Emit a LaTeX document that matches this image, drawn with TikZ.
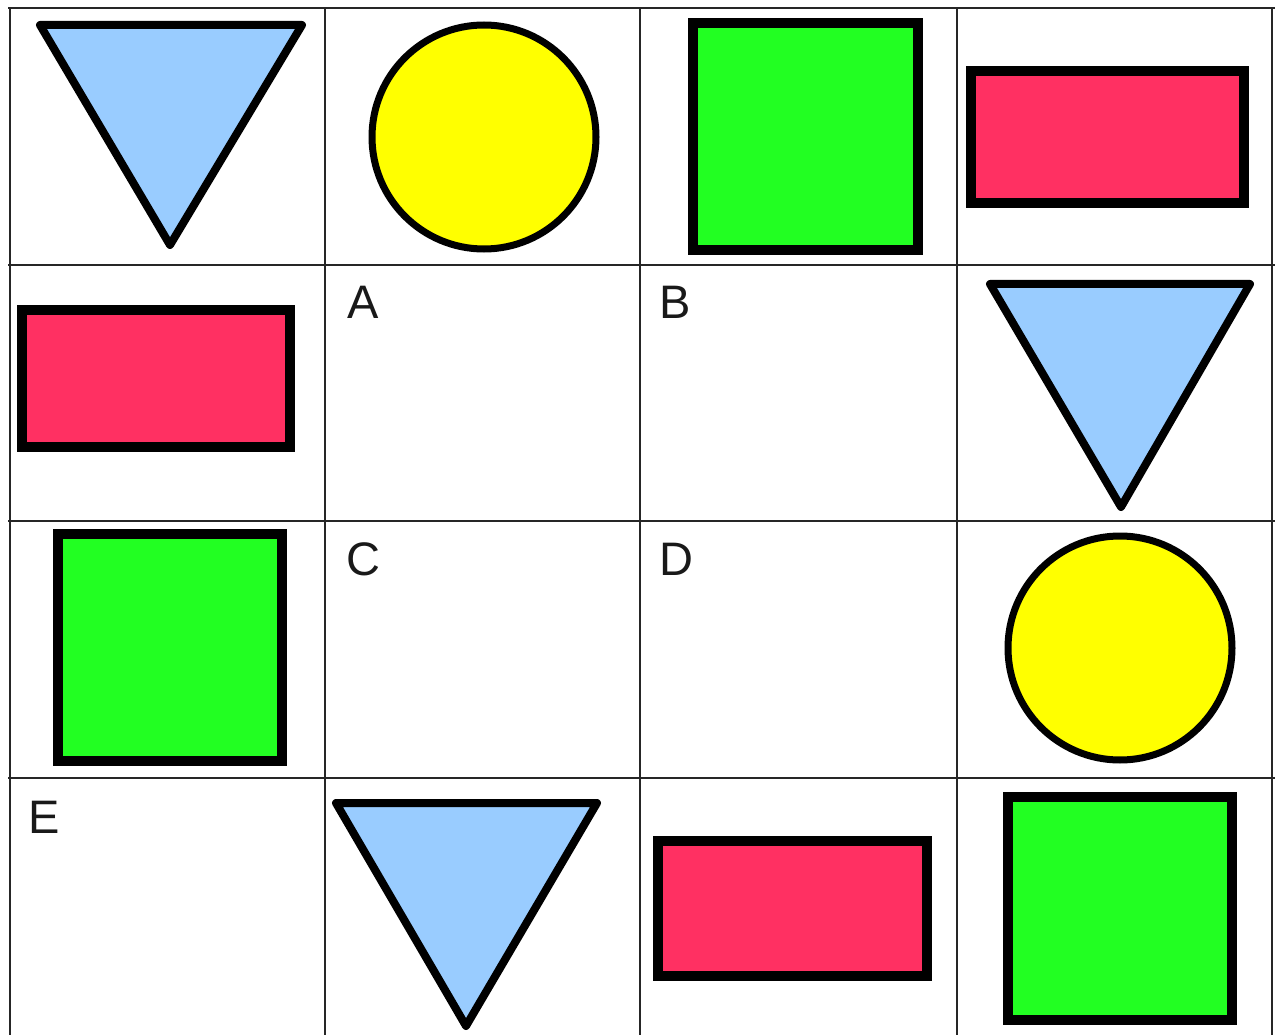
\documentclass[tikz,border=0pt]{standalone}
\usepackage{fontspec}
\setmainfont{Liberation Sans}
\begin{document}
\begin{tikzpicture}[x=1pt,y=-1pt,
  gridline/.style={line width=1.8pt,draw=black!85},
  tri/.style={line width=8pt,draw=black,fill=triblue,line join=round},
  circ/.style={line width=7pt,draw=black,fill=circyellow},
  sq/.style={line width=10pt,draw=black,fill=sqgreen,line join=miter},
  rect/.style={line width=10pt,draw=black,fill=rectred,line join=miter},
  lbl/.style={anchor=base west,inner sep=0pt,font=\fontsize{47}{56}\selectfont,text=black!90}]
\definecolor{triblue}{RGB}{153,204,255}
\definecolor{circyellow}{RGB}{255,255,0}
\definecolor{sqgreen}{RGB}{34,255,34}
\definecolor{rectred}{RGB}{255,48,98}
\useasboundingbox (0,0) rectangle (1278,1035);
\fill[white] (0,0) rectangle (1278,1035);
% grid
\foreach \xx in {10,325,640,957,1272} \draw[gridline] (\xx,8) -- (\xx,1035);
\foreach \yy in {8,265,521,778} \draw[gridline] (8,\yy) -- (1275,\yy);
% row 1
\draw[tri] (40,25) -- (302,25) -- (170,245) -- cycle;
\draw[circ] (484,137) circle (112);
\draw[sq] (693,23) rectangle (918,250);
\draw[rect] (971,71) rectangle (1244,203);
% row 2
\draw[rect] (22,310) rectangle (290,447);
\node[lbl] (A) at (347,319) {A};
\node[lbl] (B) at (659,319) {B};
\draw[tri] (990,284) -- (1250,284) -- (1121,507) -- cycle;
% row 3
\draw[sq] (58,534) rectangle (282,761);
\node[lbl] (C) at (346,575) {C};
\node[lbl] (D) at (659,575) {D};
\draw[circ] (1120,648) circle (112);
% row 4
\node[lbl] (E) at (28,833) {E};
\draw[tri] (336,803) -- (597,803) -- (466,1026) -- cycle;
\draw[rect] (658,841) rectangle (927,976);
\draw[sq] (1008,797) rectangle (1232,1020);
\end{tikzpicture}
\end{document}
